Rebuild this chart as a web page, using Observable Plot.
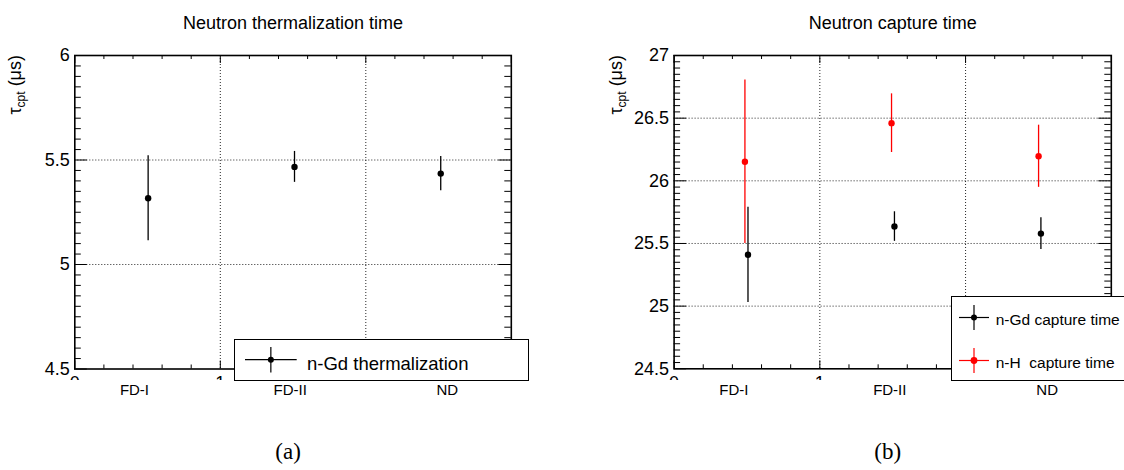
<!DOCTYPE html>
<html><head><meta charset="utf-8">
<script src="https://cdn.jsdelivr.net/npm/d3@7"></script>
<script src="https://cdn.jsdelivr.net/npm/@observablehq/plot@0.6"></script>
<style>
html,body{margin:0;padding:0;background:#fff;}
body{width:1124px;height:470px;overflow:hidden;position:relative;font-family:"Liberation Sans",Arial,Helvetica,sans-serif;color:#000;}
.panel{position:absolute;top:0;}
.ylab{position:absolute;width:200px;height:20px;text-align:right;transform-origin:0 0;transform:rotate(-90deg);font-size:18px;white-space:nowrap;line-height:20px;}
.ylab sub{font-size:12px;vertical-align:baseline;position:relative;top:4px;}
.legend{position:absolute;border:1px solid #000;background:#fff;box-sizing:border-box;}
.legend .lbl{position:absolute;white-space:pre;line-height:1;}
.legend svg{position:absolute;overflow:visible;}
</style></head><body>
<div id="left" class="panel" style="left:0"></div>
<div id="right" class="panel" style="left:560px"></div>
<div class="ylab" style="left:5px;top:255px;">τ<sub>cpt</sub> (μs)</div>
<div class="ylab" style="left:606px;top:255px;">τ<sub>cpt</sub> (μs)</div>
<div id="legA" class="legend" style="left:233.5px;top:339.3px;width:295px;height:41.7px;"></div>
<div id="legB" class="legend" style="left:951px;top:296px;width:185px;height:84.7px;"></div>
<script>
// ---------- data ----------
const categories = ["FD-I", "FD-II", "ND"];
const categoryPos = [0.41, 1.48, 2.56];
const xTickValues = [0, 1, 2, 3];

// (a) neutron thermalization time, n-Gd
const thermX = [0.504, 1.51, 2.515];
const thermTau = [5.317, 5.467, 5.435];
const thermErr = [0.203, 0.074, 0.082];
const thermTicks = [4.5, 5, 5.5, 6];

// (b) neutron capture time
const gdX = [0.507, 1.512, 2.517];
const gdTau = [25.41, 25.635, 25.579];
const gdErr = [0.38, 0.118, 0.127];
const hX = [0.486, 1.492, 2.501];
const hTau = [26.152, 26.46, 26.196];
const hErr = [0.652, 0.234, 0.248];
const captureTicks = [24.5, 25, 25.5, 26, 26.5, 27];

const titles = ["Neutron thermalization time", "Neutron capture time"];
const captions = ["(a)", "(b)"];
const legendA = ["n-Gd thermalization"];
const legendB = ["n-Gd capture time", "n-H  capture time"];
const colGd = "#000000", colH = "#ff0000";

// ---------- panel ----------
function makePanel(o) {
  const H = 470, MT = 55;
  const fw = o.width - o.ml - o.mr;
  const fh = H - MT - o.mb;
  const ylo = o.yTicks[0], yhi = o.yTicks[o.yTicks.length - 1];
  const isInt = v => Math.abs(v - Math.round(v)) < 1e-9;
  const xMinor = d3.range(1, 15).map(i => i / 5).filter(v => !isInt(v));
  const yMinor = d3.range(Math.round((yhi - ylo) / 0.05) + 1)
    .map(i => ylo + i * 0.05).filter(v => !isInt(v * 2));
  const inner = o.yTicks.slice(1, -1);
  const grid = {stroke: "#000", strokeOpacity: 0.85, strokeDasharray: "1,2", strokeWidth: 1};
  const tk = {stroke: "#000", strokeWidth: 1};
  const seriesMarks = o.series.flatMap(s => {
    const rows = s.x.map((x, i) => ({x, y: s.y[i], lo: s.y[i] - s.e[i], hi: s.y[i] + s.e[i]}));
    return [
      Plot.ruleX(rows, {x: "x", y1: "lo", y2: "hi", stroke: s.color, strokeWidth: 1.3}),
      Plot.dot(rows, {x: "x", y: "y", r: 3.2, fill: s.color, stroke: "none"})
    ];
  });
  const svg = Plot.plot({
    width: o.width, height: H,
    marginLeft: o.ml, marginRight: o.mr, marginTop: MT, marginBottom: o.mb,
    x: {domain: [0, 3]},
    y: {domain: [ylo, yhi]},
    style: {fontFamily: "'Liberation Sans', Arial, Helvetica, sans-serif", fontSize: "18px", color: "#000", background: "transparent"},
    marks: [
      Plot.gridX({ticks: [1, 2], ...grid}),
      Plot.gridY({ticks: inner, ...grid}),
      // inward ticks on all four sides
      Plot.tickX(xTickValues, {x: d => d, insetTop: fh - 8, ...tk}),
      Plot.tickX(xMinor, {x: d => d, insetTop: fh - 4, ...tk}),
      Plot.tickX(xTickValues, {x: d => d, insetBottom: fh - 8, ...tk}),
      Plot.tickX(xMinor, {x: d => d, insetBottom: fh - 4, ...tk}),
      Plot.tickY(o.yTicks, {y: d => d, insetRight: fw - 12.5, ...tk}),
      Plot.tickY(yMinor, {y: d => d, insetRight: fw - 6.5, ...tk}),
      Plot.tickY(o.yTicks, {y: d => d, insetLeft: fw - 12.5, ...tk}),
      Plot.tickY(yMinor, {y: d => d, insetLeft: fw - 6.5, ...tk}),
      Plot.frame({stroke: "#000", strokeWidth: 1.6}),
      Plot.axisY({ticks: o.yTicks, tickSize: 0, tickPadding: 5, tickFormat: d => String(d), fontSize: 18, label: null}),
      Plot.axisX({ticks: xTickValues, tickSize: 0, tickPadding: 7.5, tickFormat: d => String(d), fontSize: 18, label: null}),
      Plot.text(categories, {x: (d, i) => categoryPos[i], text: d => d, frameAnchor: "bottom", dy: 25.7, fontSize: 15}),
      ...seriesMarks,
      Plot.text([o.title], {text: d => d, frameAnchor: "top", dy: -39.5, fontSize: 18}),
      Plot.text([o.caption], {text: d => d, frameAnchor: "bottom", dy: 90, dx: -5, fontSize: 23, fontFamily: "'Liberation Serif', 'DejaVu Serif', serif"})
    ]
  });
  // ROOT-style: integer x tick labels half-hidden under the label area
  const s = d3.select(svg);
  const id = "clip" + o.key;
  s.append("defs").append("clipPath").attr("id", id)
    .append("rect").attr("x", 0).attr("y", 0).attr("width", o.width).attr("height", 380);
  const g = s.select('g[aria-label="x-axis tick label"]');
  if (!g.empty()) {
    const w = s.append("g").attr("clip-path", `url(#${id})`);
    w.node().appendChild(g.node());
  }
  return svg;
}

document.getElementById("left").appendChild(makePanel({
  key: "a", width: 560, ml: 74.3, mr: 49.2, mb: 101.5,
  yTicks: thermTicks, title: titles[0], caption: captions[0],
  series: [{x: thermX, y: thermTau, e: thermErr, color: colGd}]
}));
document.getElementById("right").appendChild(makePanel({
  key: "b", width: 564, ml: 113.6, mr: 13.2, mb: 101.7,
  yTicks: captureTicks, title: titles[1], caption: captions[1],
  series: [{x: hX, y: hTau, e: hErr, color: colH}, {x: gdX, y: gdTau, e: gdErr, color: colGd}]
}));

// ---------- legends ----------
function marker(color, hl, vl, r) {
  const NS = "http://www.w3.org/2000/svg";
  const sv = document.createElementNS(NS, "svg");
  sv.setAttribute("width", hl); sv.setAttribute("height", vl);
  const add = (tag, attrs) => { const e = document.createElementNS(NS, tag); for (const k in attrs) e.setAttribute(k, attrs[k]); sv.appendChild(e); };
  add("line", {x1: 0, y1: vl / 2, x2: hl, y2: vl / 2, stroke: color, "stroke-width": 1.2});
  add("line", {x1: hl / 2, y1: 0, x2: hl / 2, y2: vl, stroke: color, "stroke-width": 1.2});
  add("circle", {cx: hl / 2, cy: vl / 2, r: r, fill: color});
  return sv;
}
function legendEntry(box, text, color, mk, tx) {
  const sv = marker(color, mk.hl, mk.vl, mk.r);
  sv.style.left = mk.left + "px"; sv.style.top = mk.top + "px";
  box.appendChild(sv);
  const sp = document.createElement("span");
  sp.className = "lbl"; sp.textContent = text;
  sp.style.left = tx.left + "px"; sp.style.top = tx.top + "px"; sp.style.fontSize = tx.size + "px";
  box.appendChild(sp);
}
const legA = document.getElementById("legA");
legendEntry(legA, legendA[0], colGd, {hl: 51.7, vl: 25.4, r: 3, left: 10.5, top: 7}, {left: 72.5, top: 14.7, size: 18.5});
const legB = document.getElementById("legB");
legendEntry(legB, legendB[0], colGd, {hl: 30, vl: 25, r: 3, left: 7, top: 7.8}, {left: 43.7, top: 14.9, size: 15.5});
legendEntry(legB, legendB[1], colH, {hl: 30, vl: 25, r: 3.4, left: 7, top: 50.5}, {left: 43.7, top: 58.4, size: 15.5});
</script>
</body></html>
